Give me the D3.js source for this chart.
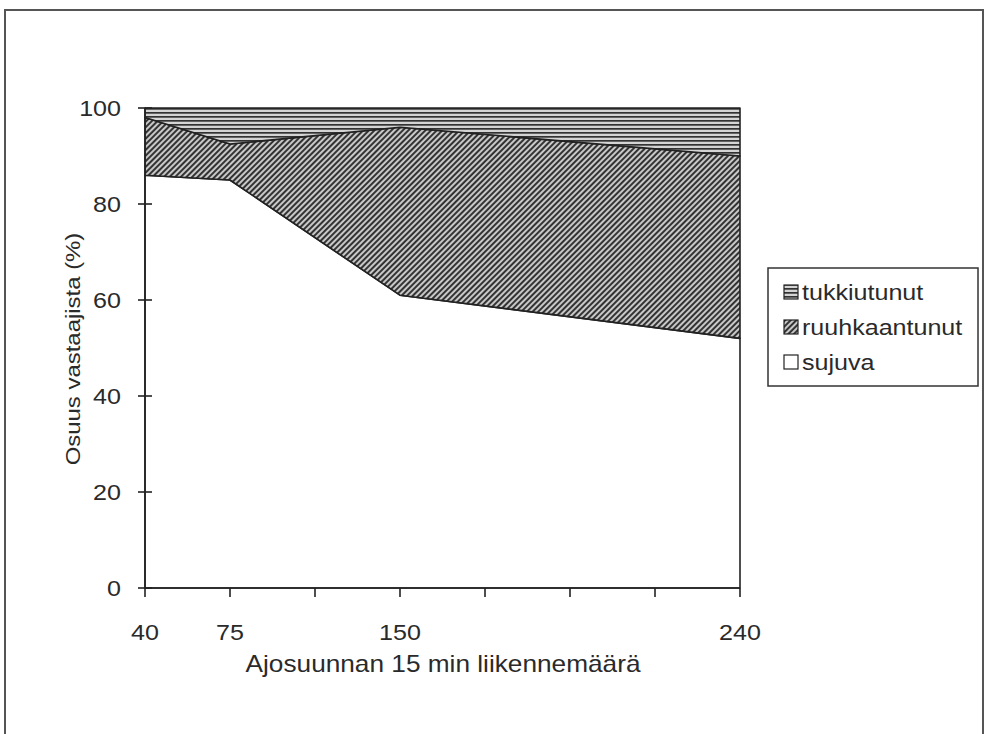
<!DOCTYPE html>
<html>
<head>
<meta charset="utf-8">
<script src="https://cdn.jsdelivr.net/npm/d3@7"></script>
<style>
  body { margin: 0; background: #fff; }
  text { font-family: "Liberation Sans", Arial, sans-serif; fill: #2a2a2a; font-size: 22px; }
</style>
</head>
<body>
<div id="chart"></div>
<script>
// x slots of the category axis, blank ones have no label and no value
var xLabels = ["40", "75", "", "150", "", "", "", "240"];
var sujuva = [86, 85, null, 61, null, null, null, 52];
var ruuhkaantunut = [12, 7.5, null, 35, null, null, null, 38];
var tukkiutunut = [2, 7.5, null, 4, null, null, null, 10];
var yTicks = [0, 20, 40, 60, 80, 100];
var seriesNames = ["sujuva", "ruuhkaantunut", "tukkiutunut"];

var width = 987, height = 734;
var margin = {left: 145, right: 247, top: 108, bottom: 146};
var stretch = 1.14; // the scanned text is a bit wider than Arial

var svg = d3.select("#chart").append("svg")
    .attr("width", width)
    .attr("height", height);

var defs = svg.append("defs");

// horizontal lines
var ph = defs.append("pattern")
    .attr("id", "horiz")
    .attr("width", 8)
    .attr("height", 4)
    .attr("patternUnits", "userSpaceOnUse");
ph.append("rect").attr("width", 8).attr("height", 4).attr("fill", "#d4d4d4");
ph.append("rect").attr("y", 0).attr("width", 8).attr("height", 1.7).attr("fill", "#333");

// diagonal hatch
var pd = defs.append("pattern")
    .attr("id", "diag")
    .attr("width", 4)
    .attr("height", 4)
    .attr("patternUnits", "userSpaceOnUse")
    .attr("patternTransform", "rotate(45)");
pd.append("rect").attr("width", 4).attr("height", 4).attr("fill", "#c8c8c8");
pd.append("rect").attr("x", 0).attr("width", 2).attr("height", 4).attr("fill", "#333");

var fills = {sujuva: "#fff", ruuhkaantunut: "url(#diag)", tukkiutunut: "url(#horiz)"};

function label(parent, x, y, str, anchor, rot) {
  return parent.append("text")
      .attr("transform", "translate(" + x + "," + y + ")" + (rot ? " rotate(" + rot + ")" : "") + " scale(" + stretch + ",1)")
      .attr("text-anchor", anchor || "start")
      .text(str);
}

// outer frame
svg.append("rect")
    .attr("x", 5).attr("y", 10)
    .attr("width", 978).attr("height", 740)
    .attr("fill", "none")
    .attr("stroke", "#555")
    .attr("stroke-width", 2);

var x = d3.scaleLinear()
    .domain([0, xLabels.length - 1])
    .range([margin.left, width - margin.right]);

var y = d3.scaleLinear()
    .domain([0, 100])
    .range([height - margin.bottom, margin.top]);

var rows = xLabels.map(function(l, i) {
  return {i: i, sujuva: sujuva[i], ruuhkaantunut: ruuhkaantunut[i], tukkiutunut: tukkiutunut[i]};
}).filter(function(d) { return d.sujuva != null; });

var layers = d3.stack().keys(seriesNames)(rows);

var area = d3.area()
    .x(function(d) { return x(d.data.i); })
    .y0(function(d) { return y(d[0]); })
    .y1(function(d) { return y(d[1]); });

svg.selectAll(".layer")
    .data(layers)
    .enter().append("path")
    .attr("class", "layer")
    .attr("d", area)
    .attr("fill", function(d) { return fills[d.key]; })
    .attr("stroke", "#222")
    .attr("stroke-width", 1.6)
    .attr("stroke-linejoin", "round");

// y axis
var yAxis = svg.append("g")
    .attr("transform", "translate(" + margin.left + ",0)");
yAxis.append("line")
    .attr("y1", y(0)).attr("y2", y(100))
    .attr("stroke", "#222").attr("stroke-width", 1.6);
yAxis.selectAll(".yt")
    .data(yTicks)
    .enter().append("line")
    .attr("x1", -7).attr("x2", 7)
    .attr("y1", function(d) { return y(d); })
    .attr("y2", function(d) { return y(d); })
    .attr("stroke", "#222").attr("stroke-width", 1.6);
yTicks.forEach(function(d) {
  label(yAxis, -24, y(d) + 8, d, "end");
});

// x axis
var xAxis = svg.append("g")
    .attr("transform", "translate(0," + y(0) + ")");
xAxis.append("line")
    .attr("x1", x(0)).attr("x2", x(xLabels.length - 1))
    .attr("stroke", "#222").attr("stroke-width", 1.6);
xAxis.selectAll(".xt")
    .data(xLabels)
    .enter().append("line")
    .attr("x1", function(d, i) { return x(i); })
    .attr("x2", function(d, i) { return x(i); })
    .attr("y1", 0).attr("y2", 9)
    .attr("stroke", "#222").attr("stroke-width", 1.6);
xLabels.forEach(function(d, i) {
  if (d) label(xAxis, x(i), 52, d, "middle");
});

label(svg, 443, 672, "Ajosuunnan 15 min liikennemäärä", "middle").style("font-size", "23px");
label(svg, 80, 349, "Osuus vastaajista (%)", "middle", -90).style("font-size", "21px");

// legend
var legend = svg.append("g").attr("transform", "translate(768,268)");
legend.append("rect")
    .attr("width", 210).attr("height", 118)
    .attr("fill", "#fff")
    .attr("stroke", "#333").attr("stroke-width", 1.5);
seriesNames.slice().reverse().forEach(function(name, i) {
  var gy = 24 + i * 35;
  legend.append("rect")
      .attr("x", 16).attr("y", gy - 7)
      .attr("width", 14).attr("height", 14)
      .attr("fill", fills[name])
      .attr("stroke", "#222").attr("stroke-width", 1.2);
  label(legend, 34, gy + 8, name, "start");
});
</script>
</body>
</html>
